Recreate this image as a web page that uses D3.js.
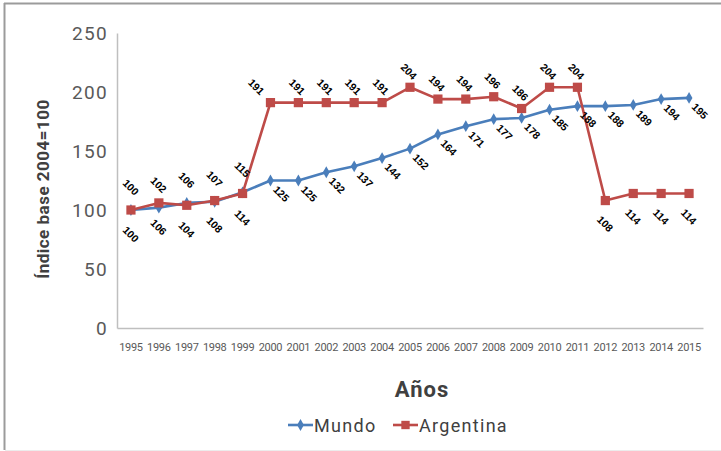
<!DOCTYPE html>
<html>
<head>
<meta charset="utf-8">
<script src="https://cdn.jsdelivr.net/npm/d3@7"></script>
<style>
  html, body { margin: 0; padding: 0; background: #fff; }
  svg { display: block; }
</style>
</head>
<body>
<svg id="chart" width="721" height="451"></svg>
<script>
// Years on the category axis
const years = ["1995","1996","1997","1998","1999","2000","2001","2002","2003","2004",
               "2005","2006","2007","2008","2009","2010","2011","2012","2013","2014","2015"];
// Index values (base 2004 = 100)
const mundo     = [100,102,106,107,115,125,125,132,137,144,152,164,171,177,178,185,188,188,189,194,195];
const argentina = [100,106,104,108,114,191,191,191,191,191,204,194,194,196,186,204,204,108,114,114,114];
const yTicks = [0, 50, 100, 150, 200, 250];

const svg = d3.select("#chart");
const W = 721, H = 451;
const plot = { left: 117, right: 703, top: 33, bottom: 328 };

const blue = "#4a7ebb", red = "#be4b48";

// Frame
svg.append("line").attr("x1", 4).attr("x2", W).attr("y1", 3.5).attr("y2", 3.5)
  .attr("stroke", "#9b9b9b").attr("stroke-width", 2);
svg.append("line").attr("x1", 4.5).attr("x2", 4.5).attr("y1", 3).attr("y2", 450)
  .attr("stroke", "#9b9b9b").attr("stroke-width", 2);
svg.append("line").attr("x1", 5).attr("x2", W).attr("y1", 450.5).attr("y2", 450.5)
  .attr("stroke", "#ececec").attr("stroke-width", 1);

const x = d3.scaleBand().domain(years).range([plot.left, plot.right]);
const y = d3.scaleLinear().domain([0, 250]).range([plot.bottom, plot.top]);
const cx = d => x(d) + x.bandwidth() / 2;

// Y axis
const yAxis = svg.append("g").attr("transform", `translate(${plot.left},0)`)
  .call(d3.axisLeft(y).tickValues(yTicks).tickSize(0).tickPadding(9));
yAxis.select(".domain").attr("stroke", "#bfbfbf").attr("stroke-width", 1.5);
yAxis.selectAll("text")
  .attr("font-family", "Roboto, sans-serif").attr("font-size", 19)
  .attr("letter-spacing", "1.3px").attr("fill", "#595959");

// X axis
const xAxis = svg.append("g").attr("transform", `translate(0,${plot.bottom})`)
  .call(d3.axisBottom(x).tickSize(0).tickPadding(15));
xAxis.select(".domain").attr("stroke", "#bfbfbf").attr("stroke-width", 1.5);
xAxis.selectAll("text")
  .attr("font-family", "Roboto, sans-serif").attr("font-size", 11)
  .attr("letter-spacing", "-0.3px").attr("fill", "#595959");

// Axis titles
svg.append("text")
  .attr("transform", "translate(49,189) rotate(-90)")
  .attr("text-anchor", "middle")
  .attr("font-family", "Roboto, sans-serif").attr("font-weight", "bold")
  .attr("font-size", 17).attr("letter-spacing", "0.5px").attr("fill", "#404040")
  .text("Índice base 2004=100");

svg.append("text")
  .attr("x", 422).attr("y", 397)
  .attr("text-anchor", "middle")
  .attr("font-family", "Roboto, sans-serif").attr("font-weight", "bold")
  .attr("font-size", 22).attr("letter-spacing", "1px").attr("fill", "#404040")
  .text("Años");

// Series
const series = [
  { name: "Mundo", values: mundo, color: blue, shape: d3.symbolDiamond, size: 40 },
  { name: "Argentina", values: argentina, color: red, shape: d3.symbolSquare, size: 85 }
];

const line = d3.line().x((d, i) => cx(years[i])).y(d => y(d));

series.forEach(s => {
  svg.append("path").datum(s.values)
    .attr("d", line).attr("fill", "none")
    .attr("stroke", s.color).attr("stroke-width", 2.6)
    .attr("stroke-linejoin", "round");
  svg.append("g").selectAll("path").data(s.values).join("path")
    .attr("transform", (d, i) => `translate(${cx(years[i])},${y(d)})`)
    .attr("d", d3.symbol().type(s.shape).size(s.size))
    .attr("fill", s.color);
});

// Value labels, rotated 45 degrees
function labelOffset(name, i) {
  if (name === "Mundo") return i <= 4 ? [0, -23] : [11, 13];
  if (i <= 4) return [0, 24];
  if (i <= 16) return i === 5 ? [-14, -16] : [-1, -16];
  return [0, 23];
}

series.forEach(s => {
  svg.append("g").selectAll("text").data(s.values).join("text")
    .attr("transform", (d, i) => {
      const [dx, dy] = labelOffset(s.name, i);
      return `translate(${cx(years[i]) + dx},${y(d) + dy}) rotate(45)`;
    })
    .attr("text-anchor", "middle").attr("dominant-baseline", "central")
    .attr("font-family", "'Liberation Sans', Arial, sans-serif")
    .attr("font-weight", "bold").attr("font-size", 10.5).attr("fill", "#000")
    .text(d => d);
});

// Legend
const legend = [
  { name: "Mundo", color: blue, shape: d3.symbolDiamond, size: 40, x: 288 },
  { name: "Argentina", color: red, shape: d3.symbolSquare, size: 70, x: 393 }
];
legend.forEach(l => {
  const g = svg.append("g").attr("transform", `translate(${l.x},425)`);
  g.append("line").attr("x1", 0).attr("x2", 25).attr("stroke", l.color).attr("stroke-width", 2.6);
  g.append("path").attr("transform", "translate(12.5,0)")
    .attr("d", d3.symbol().type(l.shape).size(l.size)).attr("fill", l.color);
  g.append("text").attr("x", 26).attr("y", 6.5)
    .attr("font-family", "Roboto, sans-serif").attr("font-size", 18)
    .attr("letter-spacing", "1.3px").attr("fill", "#404040")
    .text(l.name);
});
</script>
</body>
</html>
